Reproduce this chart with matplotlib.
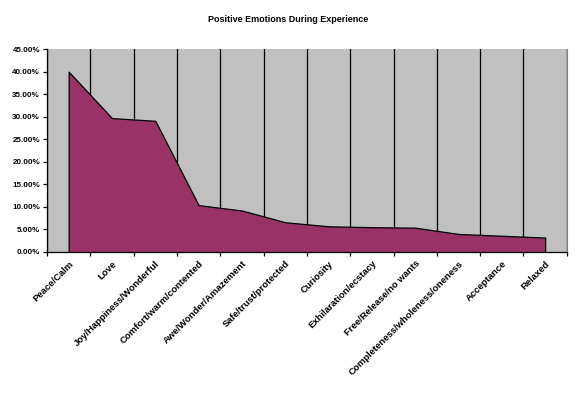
import matplotlib.pyplot as plt
import numpy as np
from matplotlib.ticker import FixedLocator, PercentFormatter

plt.rcParams['font.family'] = ['Liberation Sans', 'DejaVu Sans']

# data (percent of respondents)
emotions = [
    'Peace/Calm', 'Love', 'Joy/Happiness/Wonderful', 'Comfort/warm/contented',
    'Awe/Wonder/Amazement', 'Safe/trust/protected', 'Curiosity',
    'Exhilaration/ecstacy', 'Free/Release/no wants',
    'Completeness/wholeness/oneness', 'Acceptance', 'Relaxed']
share = [40.0, 29.7, 29.1, 10.4, 9.2, 6.6, 5.7, 5.5, 5.4, 4.0, 3.6, 3.2]

x = np.arange(len(emotions))

fig = plt.figure(figsize=(5.76, 3.93), dpi=100)
ax = fig.add_axes([0.0816, 0.3588, 0.9024, 0.5162])
ax.set_facecolor('#C0C0C0')

ax.fill_between(x, share, 0, facecolor='#993366', edgecolor='black',
                linewidth=0.9, zorder=3)

ax.set_xlim(-0.5, len(emotions) - 0.5)
ax.set_ylim(0, 45)

# category boundaries carry ticks + gridlines, centers carry labels
ax.xaxis.set_major_locator(FixedLocator(np.arange(len(emotions) + 1) - 0.5))
ax.xaxis.set_minor_locator(FixedLocator(x))
ax.set_xticklabels([], minor=False)
ax.set_xticklabels(emotions, minor=True, rotation=45, ha='right', va='top',
                   rotation_mode='anchor', fontsize=6.8, fontweight='bold')
ax.tick_params(axis='x', which='minor', length=0, pad=5)
ax.tick_params(axis='x', which='major', direction='out', length=3, width=0.9)
ax.grid(axis='x', which='major', color='black', linewidth=0.9)
ax.set_axisbelow(True)

ax.set_yticks(np.arange(0, 46, 5))
ax.yaxis.set_major_formatter(PercentFormatter(decimals=2))
ax.tick_params(axis='y', direction='out', length=3, width=0.9, labelsize=5.8, pad=2)
for lab in ax.get_yticklabels():
    lab.set_fontweight('bold')

ax.spines['top'].set_visible(False)
ax.spines['right'].set_color('#808080')
ax.spines['left'].set_linewidth(0.9)
ax.spines['bottom'].set_linewidth(0.9)

fig.suptitle('Positive Emotions During Experience', x=0.5, y=0.962,
             fontsize=6.5, fontweight='bold')

fig.savefig('out.png', dpi=100)
